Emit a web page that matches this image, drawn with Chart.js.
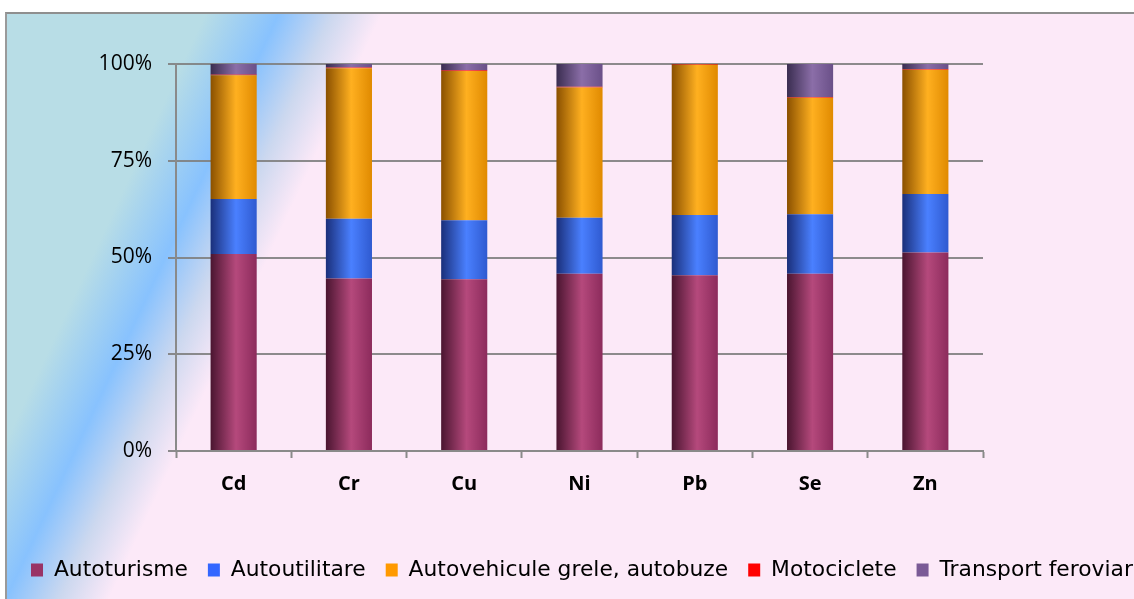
<!DOCTYPE html>
<html>
<head>
<meta charset="utf-8">
<script src="https://cdn.jsdelivr.net/npm/chart.js@4/dist/chart.umd.min.js"></script>
<style>
  html, body { margin: 0; padding: 0; background: #ffffff; overflow: hidden; }
  #frame {
    position: absolute; left: 5px; top: 12px;
    border-top: 2px solid #8f8f8f; border-left: 2px solid #9a9a9a;
    width: 1250px; height: 600px; overflow: hidden;
  }
  canvas { display: block; }
</style>
</head>
<body>
<div id="frame"><canvas id="chart_canvas" width="1250" height="600"></canvas></div>
<script>
// metals on the x axis
const metals = ['Cd', 'Cr', 'Cu', 'Ni', 'Pb', 'Se', 'Zn'];

// share of each source, in percent
const autoturisme = [50.9, 44.6, 44.4, 45.8, 45.4, 45.8, 51.3];
const autoutilitare = [14.2, 15.4, 15.2, 14.5, 15.6, 15.4, 15.1];
const autovehicule_grele = [32.0, 38.9, 38.6, 33.6, 38.8, 30.1, 32.1];
const motociclete = [0.2, 0.2, 0.2, 0.2, 0.2, 0.2, 0.2];
const transport_feroviar = [2.7, 0.9, 1.6, 5.9, 0.0, 8.5, 1.3];

const y_ticks = [0, 25, 50, 75, 100];

const BAR_SHARE = 0.4;

/**
 * Returns a scriptable colour that shades each bar like a cylinder.
 */
function cylinder(flat, dark, bright, side) {
  return (ctx) => {
    if (ctx.type !== 'data') return flat;
    const xs = ctx.chart.scales.x;
    if (!xs) return flat;
    const cx = xs.getPixelForValue(ctx.dataIndex);
    const half = ((xs.right - xs.left) / metals.length) * BAR_SHARE / 2;
    if (!isFinite(cx) || !isFinite(half) || half <= 0) return flat;
    const g = ctx.chart.ctx.createLinearGradient(cx - half, 0, cx + half, 0);
    g.addColorStop(0, dark);
    g.addColorStop(0.55, bright);
    g.addColorStop(1, side);
    return g;
  };
}

// diagonal teal / blue / pink backdrop of the chart box
const backdrop = {
  id: 'backdrop',
  beforeDraw(chart) {
    const c = chart.ctx;
    const g = c.createLinearGradient(-7, -14, 1153, 527);
    g.addColorStop(0, '#b8dde6');
    g.addColorStop(0.15, '#b8dde6');
    g.addColorStop(0.202, '#88c2fe');
    g.addColorStop(0.24, '#ccd8ef');
    g.addColorStop(0.275, '#fce9f8');
    g.addColorStop(1, '#fce9f8');
    c.save();
    c.fillStyle = g;
    c.fillRect(0, 0, chart.width, chart.height);
    c.restore();
  }
};

function make_dataset(label, data, flat, bg) {
  return {
    label: label,
    data: data,
    flat_color: flat,
    backgroundColor: bg,
    borderWidth: 0,
    barPercentage: BAR_SHARE,
    categoryPercentage: 1.0
  };
}

// legend boxes get the plain colour, not the bar shading
function legend_labels(chart) {
  const items = Chart.defaults.plugins.legend.labels.generateLabels(chart);
  for (const item of items) {
    const ds = chart.data.datasets[item.datasetIndex];
    item.fillStyle = ds.flat_color;
    item.strokeStyle = ds.flat_color;
    item.lineWidth = 0;
  }
  return items;
}

new Chart(document.getElementById('chart_canvas'), {
  type: 'bar',
  data: {
    labels: metals,
    datasets: [
      make_dataset('Autoturisme', autoturisme, '#993366', cylinder('#993366', '#4a1530', '#b5497c', '#8c2b5c')),
      make_dataset('Autoutilitare', autoutilitare, '#3366ff', cylinder('#3366ff', '#1a2f7a', '#4a80ff', '#2f5ad0')),
      make_dataset('Autovehicule grele, autobuze', autovehicule_grele, '#ff9900', cylinder('#ff9900', '#8a5000', '#ffb020', '#e08a00')),
      make_dataset('Motociclete', motociclete, '#ff0000', cylinder('#ff0000', '#b00000', '#ff2a2a', '#e00000')),
      make_dataset('Transport feroviar', transport_feroviar, '#7a5a96', cylinder('#7a5a96', '#3a2d50', '#8b6ea8', '#6a5088'))
    ]
  },
  options: {
    responsive: false,
    animation: false,
    devicePixelRatio: 1,
    layout: { padding: { left: 4, right: 0, top: 50, bottom: 23.1 } },
    plugins: {
      tooltip: { enabled: false },
      legend: {
        position: 'bottom',
        align: 'start',
        labels: {
          boxWidth: 12,
          boxHeight: 13,
          padding: 20,
          color: '#000000',
          font: { family: 'DejaVu Sans', size: 21.8 },
          generateLabels: legend_labels
        }
      }
    },
    scales: {
      x: {
        stacked: true,
        afterFit: (scale) => { scale.height = 88.1; },
        grid: {
          offset: true,
          drawOnChartArea: false,
          drawTicks: true,
          tickLength: 7,
          tickWidth: 2,
          tickColor: '#8a8a8a'
        },
        border: { display: true, color: '#8a8a8a', width: 2 },
        ticks: {
          padding: 14,
          color: '#000000',
          font: { family: 'Open Sans', size: 20, weight: 'bold' }
        }
      },
      y: {
        stacked: true,
        min: 0,
        max: 100,
        afterFit: (scale) => { scale.width = 165; },
        afterBuildTicks: (scale) => { scale.ticks = y_ticks.map(v => ({ value: v })); },
        grid: {
          color: 'rgba(128,128,128,0.9)',
          lineWidth: 2,
          tickLength: 8
        },
        border: { display: true, color: '#8a8a8a', width: 2 },
        ticks: {
          padding: 16,
          color: '#000000',
          font: { family: 'Open Sans', size: 21 },
          callback: (v) => v + '%'
        }
      },
      // empty strip on the right so the plot stops short of the edge
      right_gap: {
        type: 'linear',
        position: 'right',
        afterFit: (scale) => { scale.width = 274; },
        grid: { display: false, drawTicks: false },
        border: { display: false },
        ticks: { display: false }
      }
    }
  },
  plugins: [backdrop]
});
</script>
</body>
</html>
